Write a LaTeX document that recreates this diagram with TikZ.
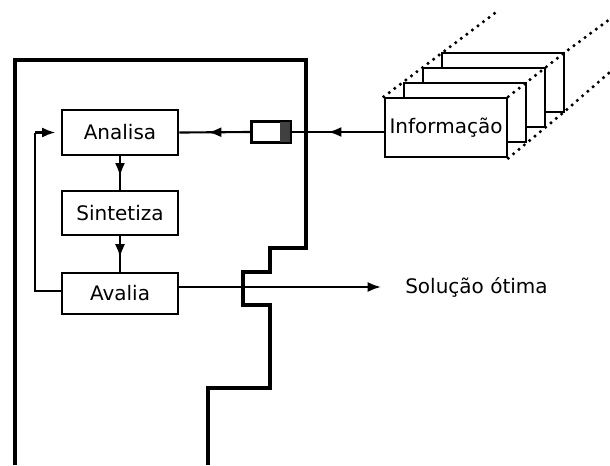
\documentclass[tikz,border=0pt]{standalone}
\usepackage{fontspec}
\setmainfont{DejaVu Sans}
\usetikzlibrary{arrows.meta,decorations.markings}
\begin{document}
\begin{tikzpicture}[x=0.75pt,y=-0.75pt,
  box/.style={draw,line width=1.9pt,fill=white,inner sep=0pt,font=\fontsize{15}{17}\selectfont},
  wire/.style={line width=1.6pt},
  border/.style={line width=2.3pt},
  tip/.tip={Latex[length=10pt,width=7.5pt]},
  arr/.style={-tip},
  midarr/.style={decoration={markings,mark=at position 0.6 with {\arrow{tip}}},postaction={decorate}},
  dots/.style={line width=2.6pt,line cap=round,dash pattern=on 0pt off 5.2pt}]
\useasboundingbox (0,0) rectangle (610,465);
% outer boundary
\draw[border] (15,465) -- (15,60) -- (306,60) -- (306,248) -- (270,248) -- (270,272) -- (243,272) -- (243,305) -- (270,305) -- (270,388) -- (208,388) -- (208,465);
% boxes
\node[box,minimum width=87pt,minimum height=33.75pt] (ana) at (120,132.5) {Analisa};
\node[box,minimum width=87pt,minimum height=33pt] (sin) at (120,213) {Sintetiza};
\node[box,minimum width=87pt,minimum height=30.75pt] (ava) at (120,293.5) {Avalia};
% small box
\node[draw,line width=1.5pt,fill=white,minimum width=28.5pt,minimum height=15pt,inner sep=0pt] (sb) at (271,132) {};
\fill[black!75] ([xshift=-8pt]sb.north east) rectangle (sb.south east);
\draw[line width=1.5pt] (sb.north west) rectangle (sb.south east);
% information stack
\foreach \dx/\dy in {57/-45,38/-30,19/-15}{
  \draw[line width=1.9pt,fill=white] (385+\dx,98+\dy) rectangle (507+\dx,157+\dy);
}
\node[box,minimum width=91.5pt,minimum height=44.25pt] (inf) at (446,127.5) {Informação};
% dotted lines
\coordinate (d1) at (495,13);
\coordinate (d2) at (610,19);
\coordinate (d3) at (610,72);
\draw[dots] (inf.north west) -- (d1);
\draw[dots] (inf.north east) -- (564,53) -- (d2);
\draw[dots] (inf.south east) -- (564,112) -- (d3);
% connectors
\draw[wire,midarr] (ana.south) -- (sin.north);
\draw[wire,midarr] (sin.south) -- (ava.north);
\coordinate (fbA) at (35,291);
\coordinate (fbB) at (35,132.5);
\draw[wire] (ava.west |- fbA) -- (fbA) -- (fbB);
\draw[wire,arr,shorten >=4pt] (fbB) -- (ana.west);
\draw[wire,midarr] (sb.west) -- (ana.east);
\draw[wire,midarr] (inf.west |- sb.east) -- (sb.east);
\node[font=\fontsize{15}{17}\selectfont,anchor=west,inner sep=0pt] (sol) at (405,287) {Solução ótima};
\draw[wire,arr] (ava.east |- sol.west) -- ([xshift=-18pt]sol.west);
\end{tikzpicture}
\end{document}
